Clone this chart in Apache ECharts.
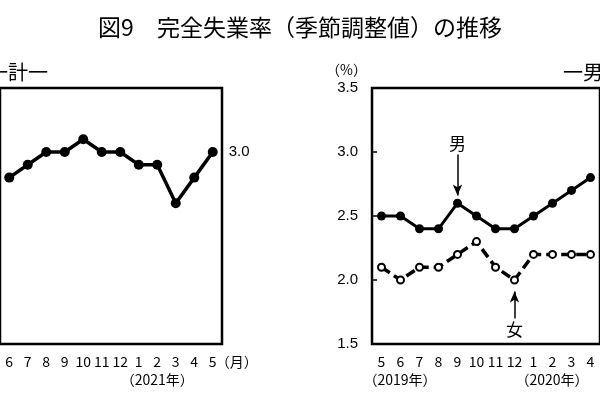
<!DOCTYPE html>
<html>
<head>
<meta charset="utf-8">
<title>完全失業率（季節調整値）の推移</title>
<script src="https://cdn.jsdelivr.net/npm/echarts@6.0.0/dist/echarts.min.js"></script>
<style>
  html, body { margin: 0; padding: 0; background: #fff; }
  #chart { width: 600px; height: 400px; }
</style>
</head>
<body>
<div id="chart"></div>
<script>
// 左：計（2020年6月～2021年5月）
const totalMonths = ['6', '7', '8', '9', '10', '11', '12', '1', '2', '3', '4', '5'];
const totalRate = [2.8, 2.9, 3.0, 3.0, 3.1, 3.0, 3.0, 2.9, 2.9, 2.6, 2.8, 3.0];
const totalYears = [['1', '（2021年）']];

// 右：男女（2019年5月～2020年4月）
const sexMonths = ['5', '6', '7', '8', '9', '10', '11', '12', '1', '2', '3', '4'];
const maleRate = [2.5, 2.5, 2.4, 2.4, 2.6, 2.5, 2.4, 2.4, 2.5, 2.6, 2.7, 2.8];
const femaleRate = [2.1, 2.0, 2.1, 2.1, 2.2, 2.3, 2.1, 2.0, 2.2, 2.2, 2.2, 2.2];
const sexYears = [['5', '（2019年）'], ['1', '（2020年）']];

const yMin = 1.5, yMax = 3.5, yStep = 0.5;
// 矢印 [月, 始点, 終点]
const maleArrow = ['9', 2.98, 2.66];
const femaleArrow = ['12', 1.70, 1.91];

const jp = '"Noto Sans CJK JP", sans-serif';
const num = '"Liberation Sans", "Noto Sans CJK JP", sans-serif';

const chart = echarts.init(document.getElementById('chart'));

function makeX(idx, data) {
  return {
    type: 'category', gridIndex: idx, data: data, boundaryGap: true,
    axisLine: { show: false }, axisTick: { show: false }, splitLine: { show: false },
    axisLabel: { interval: 0, margin: 11, color: '#000', fontSize: 14, fontFamily: jp }
  };
}

function makeY(idx, showLabel) {
  return {
    type: 'value', gridIndex: idx, min: yMin, max: yMax, interval: yStep,
    axisLine: { show: false }, splitLine: { show: false },
    axisTick: { show: showLabel, inside: true, length: 5, lineStyle: { color: '#000', width: 1.5 } },
    axisLabel: {
      show: showLabel, margin: 14, color: '#000', fontSize: 15, fontFamily: num,
      formatter: v => v.toFixed(1)
    }
  };
}

function arrowLine(arrow, text) {
  return {
    silent: true,
    symbol: ['none', 'arrow'],
    symbolSize: [7, 11],
    lineStyle: { color: '#000', width: 1.5, type: 'solid' },
    label: { show: true, position: 'start', formatter: text, distance: 3, color: '#000', fontSize: 17, fontFamily: jp },
    data: [[{ coord: [arrow[0], arrow[1]] }, { coord: [arrow[0], arrow[2]] }]]
  };
}

const gridBox = { show: true, borderColor: '#000', borderWidth: 2.5, backgroundColor: 'transparent' };

chart.setOption({
  animation: false,
  title: {
    text: '図9　完全失業率（季節調整値）の推移',
    left: 'center', top: 11,
    textStyle: { fontFamily: jp, fontSize: 23, fontWeight: 'normal', color: '#000' }
  },
  grid: [
    Object.assign({ left: -10, top: 88, width: 232, height: 256 }, gridBox),
    Object.assign({ left: 372, top: 88, width: 236, height: 256 }, gridBox)
  ],
  xAxis: [makeX(0, totalMonths), makeX(1, sexMonths)],
  yAxis: [makeY(0, false), makeY(1, true)],
  series: [
    {
      name: '計', type: 'line', xAxisIndex: 0, yAxisIndex: 0, data: totalRate,
      symbol: 'circle', symbolSize: 10, color: '#000',
      lineStyle: { width: 3.5, color: '#000' },
      endLabel: {
        show: true, distance: 16, color: '#000', fontSize: 15, fontFamily: num,
        formatter: p => (Array.isArray(p.value) ? p.value[1] : p.value).toFixed(1)
      }
    },
    {
      name: '男', type: 'line', xAxisIndex: 1, yAxisIndex: 1, data: maleRate,
      symbol: 'circle', symbolSize: 9, color: '#000',
      lineStyle: { width: 3, color: '#000' },
      markLine: arrowLine(maleArrow, '男')
    },
    {
      name: '女', type: 'line', xAxisIndex: 1, yAxisIndex: 1, data: femaleRate,
      symbol: 'emptyCircle', symbolSize: 7, color: '#000',
      itemStyle: { color: '#000', borderWidth: 1.5 },
      lineStyle: { width: 3.5, color: '#000', type: [10, 5] },
      markLine: arrowLine(femaleArrow, '女')
    }
  ]
});

// 軸に沿った注記（年・単位）
function txt(x, y, text, size, align, family) {
  return {
    type: 'text', x: x, y: y, silent: true,
    style: { text: text, fontSize: size, fontFamily: family || jp, fill: '#000', align: align, verticalAlign: 'middle' }
  };
}

const bottomY = chart.convertToPixel({ yAxisIndex: 0 }, yMin);
const topY = chart.convertToPixel({ yAxisIndex: 1 }, yMax);
const graphics = [
  txt(48, 72, '一計一', 20, 'right'),
  txt(563, 72, '一男女一', 20, 'left'),
  txt(chart.convertToPixel({ xAxisIndex: 1 }, sexMonths[0]) - 35, topY - 18, '（%）', 14, 'center'),
  txt(chart.convertToPixel({ xAxisIndex: 0 }, totalMonths[totalMonths.length - 1]) + 3, bottomY + 18, '（月）', 14, 'left')
];
totalYears.forEach(([m, label]) => {
  graphics.push(txt(chart.convertToPixel({ xAxisIndex: 0 }, m) - 18, bottomY + 36, label, 14, 'left'));
});
sexYears.forEach(([m, label]) => {
  graphics.push(txt(chart.convertToPixel({ xAxisIndex: 1 }, m) - 18, bottomY + 36, label, 14, 'left'));
});
chart.setOption({ graphic: graphics });
</script>
</body>
</html>
